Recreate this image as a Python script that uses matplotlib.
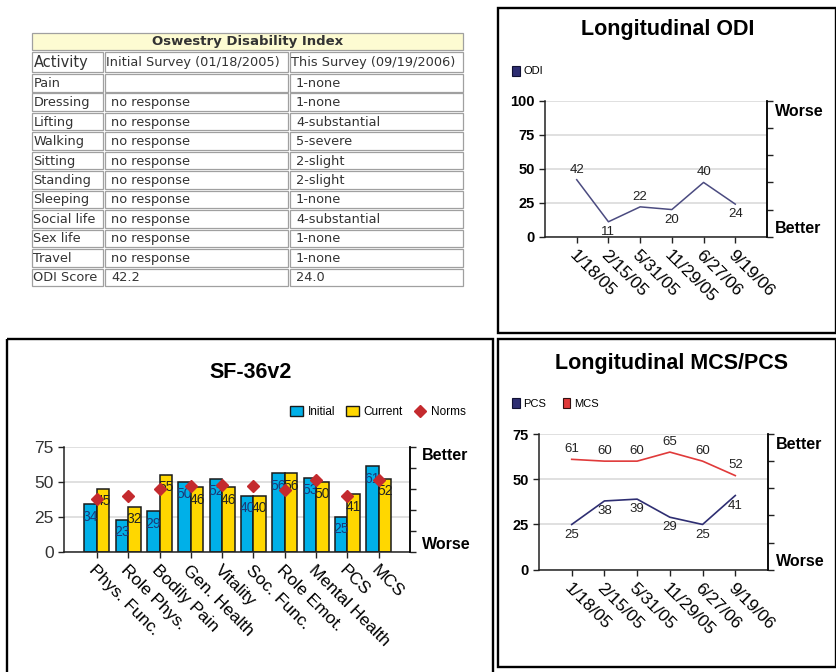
import numpy as np
import matplotlib
matplotlib.use("Agg")
import matplotlib.pyplot as plt
from matplotlib.patches import Rectangle, Patch
from matplotlib.lines import Line2D
from matplotlib import font_manager

W, H = 837, 672

# ---- data ----
activities = ["Pain", "Dressing", "Lifting", "Walking", "Sitting", "Standing",
              "Sleeping", "Social life", "Sex life", "Travel", "ODI Score"]
initial_resp = ["", "no response", "no response", "no response", "no response",
                "no response", "no response", "no response", "no response",
                "no response", "42.2"]
current_resp = ["1-none", "1-none", "4-substantial", "5-severe", "2-slight",
                "2-slight", "1-none", "4-substantial", "1-none", "1-none", "24.0"]
table_header = ["Activity", "Initial Survey (01/18/2005)", "This Survey (09/19/2006)"]

dates = ["1/18/05", "2/15/05", "5/31/05", "11/29/05", "6/27/06", "9/19/06"]
odi = [42, 11, 22, 20, 40, 24]
pcs = [25, 38, 39, 29, 25, 41]
mcs = [61, 60, 60, 65, 60, 52]

scales = ["Phys. Func.", "Role Phys.", "Bodily Pain", "Gen. Health", "Vitality",
          "Soc. Func.", "Role Emot.", "Mental Health", "PCS", "MCS"]
sf_initial = [34, 23, 29, 50, 52, 40, 56, 53, 25, 61]
sf_current = [45, 32, 55, 46, 46, 40, 56, 50, 41, 52]
sf_norms = [38, 40, 45, 47, 48, 47, 44, 51, 40, 51]

# ---- fonts ----
names = {f.name for f in font_manager.fontManager.ttflist}
SANS = "Liberation Sans" if "Liberation Sans" in names else "DejaVu Sans"
NARROW = "Liberation Sans Narrow" if "Liberation Sans Narrow" in names else SANS
plt.rcParams["font.family"] = SANS

C_INIT = "#00b0e8"
C_CUR = "#ffd700"
C_NORM = "#c42a2e"
C_NAVY = "#2e2e72"
C_RED = "#e03a3a"
GRID = "#dadada"

fig = plt.figure(figsize=(W / 100, H / 100), dpi=100)

# background layer in pixel coords: panel frames and the table
bg = fig.add_axes([0, 0, 1, 1])
bg.set_xlim(0, W)
bg.set_ylim(H, 0)
bg.axis("off")

for (x0, y0, x1, y1) in [(498, 8, 836, 333), (7, 339, 493, 680), (498, 339, 836, 667)]:
    bg.add_patch(Rectangle((x0, y0), x1 - x0, y1 - y0, fill=False, lw=1.7, ec="black"))


def cell(x0, x1, y0, y1, face="white"):
    bg.add_patch(Rectangle((x0, y0), x1 - x0, y1 - y0, facecolor=face,
                           edgecolor="#a0a0a0", lw=0.9))


TXT = "#333333"
cell(32, 463, 33, 50, "#fdfbd2")
bg.text(247.5, 41.8, "Oswestry Disability Index", family="DejaVu Sans",
        fontsize=9.5, weight="bold", color=TXT, ha="center", va="center")
cols = [(32, 103), (105, 288), (290, 463)]
for (x0, x1), lab, fs in zip(cols, table_header, [10.5, 9.3, 9.3]):
    cell(x0, x1, 52, 72)
    bg.text(x0 + 1.5, 62.5, lab, family="DejaVu Sans", fontsize=fs, color=TXT,
            ha="left", va="center")
for i, (a, b, c) in enumerate(zip(activities, initial_resp, current_resp)):
    y0 = 74 + i * 19.45
    y1 = y0 + 17.5
    ym = (y0 + y1) / 2 + 0.5
    for (x0, x1), lab, pad in zip(cols, [a, b, c], [1.5, 6, 6]):
        cell(x0, x1, y0, y1)
        bg.text(x0 + pad, ym, lab, family="DejaVu Sans", fontsize=9.3, color=TXT,
                ha="left", va="center")


def px_axes(x0, y0, x1, y1):
    return fig.add_axes([x0 / W, 1 - y1 / H, (x1 - x0) / W, (y1 - y0) / H])


def frame(ax, ymax, top_word, bottom_word, top_frac, bot_frac, bold_ticks=True):
    ax.set_ylim(0, ymax)
    ax.set_yticks(np.arange(0, ymax + 1, 25))
    ax.yaxis.grid(True, color=GRID, lw=1.2)
    ax.set_axisbelow(True)
    ax.spines["top"].set_visible(False)
    for s in ["left", "bottom", "right"]:
        ax.spines[s].set_linewidth(1.1)
        ax.spines[s].set_color("#222222")
    ax.tick_params(axis="both", length=4, width=1, color="#222222")
    if bold_ticks:
        for t in ax.get_yticklabels():
            t.set_fontweight("bold")
            t.set_fontsize(10.5)
    tw = ax.twinx()
    tw.set_ylim(0, ymax)
    tw.set_yticks(np.linspace(0, ymax, 6))
    tw.set_yticklabels([])
    tw.tick_params(length=4, width=1, color="#222222")
    for s in ["top", "left", "bottom"]:
        tw.spines[s].set_visible(False)
    tw.spines["right"].set_linewidth(1.1)
    ax.text(1.035, top_frac, top_word, transform=ax.transAxes, fontsize=11.5,
            weight="bold", ha="left", va="center")
    ax.text(1.035, bot_frac, bottom_word, transform=ax.transAxes, fontsize=11.5,
            weight="bold", ha="left", va="center")


def date_ticks(ax, labels, fs):
    ax.set_xticks(range(len(labels)))
    ax.set_xticklabels(labels, rotation=-45, ha="left", va="top",
                       rotation_mode="anchor", fontsize=fs)


def point_labels(ax, xs, ys, sides):
    for x, y, s in zip(xs, ys, sides):
        ax.annotate(str(y), (x, y), xytext=(0, 3 * s), textcoords="offset points",
                    ha="center", va="bottom" if s > 0 else "top", fontsize=9.5,
                    family=NARROW, color="#222222")


# ---- Longitudinal ODI ----
ax1 = px_axes(545, 101, 767, 236.7)
x = np.arange(len(dates))
ax1.plot(x, odi, color="#4b4b80", lw=1.1)
ax1.set_xlim(-1, len(dates))
frame(ax1, 100, "Worse", "Better", 0.919, 0.057)
date_ticks(ax1, dates, 12.5)
point_labels(ax1, x, odi, [1, -1, 1, -1, 1, -1])
fig.text(668 / W, 1 - 30 / H, "Longitudinal ODI", fontsize=15.5, weight="bold",
         ha="center", va="center")
ax1.legend(handles=[Patch(facecolor=C_NAVY, edgecolor="#111133", lw=0.8, label="ODI")],
           loc="center left", bbox_to_anchor=(512 / W, 1 - 71 / H),
           bbox_transform=fig.transFigure, frameon=False, fontsize=8,
           handlelength=0.7, handleheight=1.0, handletextpad=0.3,
           borderpad=0, borderaxespad=0)

# ---- Longitudinal MCS/PCS ----
ax2 = px_axes(539, 434, 768, 569.7)
ax2.plot(x, mcs, color=C_RED, lw=1.2)
ax2.plot(x, pcs, color=C_NAVY, lw=1.2)
ax2.set_xlim(-1, len(dates))
frame(ax2, 75, "Better", "Worse", 0.926, 0.064)
date_ticks(ax2, dates, 12.5)
point_labels(ax2, x, mcs, [1] * len(mcs))
point_labels(ax2, x, pcs, [-1] * len(pcs))
fig.text(672 / W, 1 - 363 / H, "Longitudinal MCS/PCS", fontsize=15.5, weight="bold",
         ha="center", va="center")
ax2.legend(handles=[Patch(facecolor=C_NAVY, edgecolor="#111133", lw=0.8, label="PCS"),
                    Patch(facecolor=C_RED, edgecolor="#331111", lw=0.8, label="MCS")],
           loc="center left", bbox_to_anchor=(512 / W, 1 - 403.5 / H),
           bbox_transform=fig.transFigure, frameon=False, fontsize=8, ncol=2,
           handlelength=0.7, handleheight=1.0, handletextpad=0.3, columnspacing=1.5,
           borderpad=0, borderaxespad=0)

# ---- SF-36v2 ----
ax3 = px_axes(64, 446.7, 410, 551.7)
xs = np.arange(len(scales))
bw = 0.4
ax3.bar(xs - bw / 2, sf_initial, bw, color=C_INIT, edgecolor="#1a1a1a", lw=1.1, zorder=2)
ax3.bar(xs + bw / 2, sf_current, bw, color=C_CUR, edgecolor="#1a1a1a", lw=1.1, zorder=2)
for i in range(len(scales)):
    ax3.annotate(str(sf_initial[i]), (xs[i] - bw / 2, sf_initial[i]), xytext=(0, -4),
                 textcoords="offset points", ha="center", va="top", fontsize=10,
                 family=NARROW, color="#1c3a78", zorder=3)
    ax3.annotate(str(sf_current[i]), (xs[i] + bw / 2, sf_current[i]), xytext=(0, -4),
                 textcoords="offset points", ha="center", va="top", fontsize=10,
                 family=NARROW, color="#222222", zorder=3)
ax3.plot(xs, sf_norms, ls="none", marker="D", ms=6, color=C_NORM, zorder=4)
ax3.set_xlim(-1.05, len(scales))
frame(ax3, 75, "Better", "Worse", 0.914, 0.07, bold_ticks=False)
for t in ax3.get_yticklabels():
    t.set_fontsize(12.5)
    t.set_color("#333333")
date_ticks(ax3, scales, 12.5)
fig.text(250.5 / W, 1 - 373 / H, "SF-36v2", fontsize=15.5, weight="bold",
         ha="center", va="center")
ax3.legend(handles=[Patch(facecolor=C_INIT, edgecolor="#1a1a1a", lw=1, label="Initial"),
                    Patch(facecolor=C_CUR, edgecolor="#1a1a1a", lw=1, label="Current"),
                    Line2D([], [], ls="none", marker="D", ms=6, color=C_NORM, label="Norms")],
           loc="center left", bbox_to_anchor=(290 / W, 1 - 412 / H),
           bbox_transform=fig.transFigure, frameon=False, fontsize=8.5, ncol=3,
           handlelength=1.1, handleheight=1.0, handletextpad=0.4, columnspacing=0.9,
           borderpad=0, borderaxespad=0)

fig.savefig("out.png", dpi=100)
